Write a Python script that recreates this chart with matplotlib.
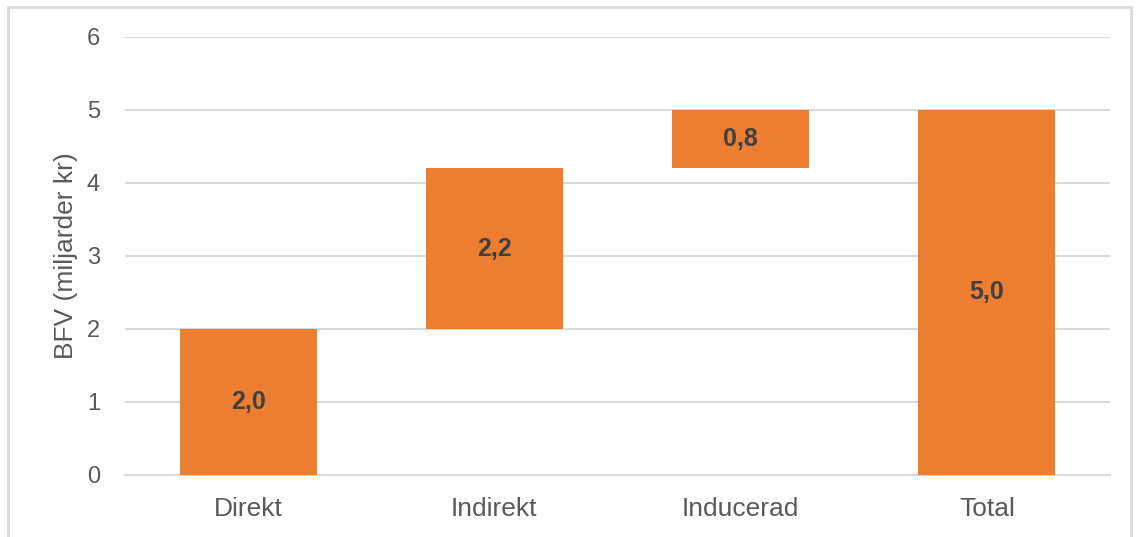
import matplotlib.pyplot as plt
from matplotlib.patches import Rectangle

kategorier = ['Direkt', 'Indirekt', 'Inducerad', 'Total']
varden = [2.0, 2.2, 0.8, 5.0]
starter = [0.0, 2.0, 4.2, 0.0]
etiketter = ['2,0', '2,2', '0,8', '5,0']
y_ticks = [0, 1, 2, 3, 4, 5, 6]

ORANGE = '#ED7D31'
GRID = '#D9D9D9'

plt.rcParams['font.family'] = ['Liberation Sans', 'DejaVu Sans']

fig = plt.figure(figsize=(11.38, 5.37), dpi=100)
ax = fig.add_axes([0.1098, 0.1155, 0.8656, 0.8156])

x = range(len(kategorier))
ax.bar(x, varden, bottom=starter, width=0.556, color=ORANGE, zorder=3)
for i, (v, s, t) in enumerate(zip(varden, starter, etiketter)):
    ax.text(i, s + v / 2, t, ha='center', va='center', fontsize=18,
            fontweight='bold', color='#404040', zorder=4)

ax.set_xlim(-0.5, 3.5)
ax.set_ylim(0, 6)
ax.set_yticks(y_ticks)
ax.set_yticklabels([str(t) for t in y_ticks])
ax.set_xticks(list(x))
ax.set_xticklabels(kategorier)
ax.tick_params(axis='both', length=0, colors='#595959')
ax.tick_params(axis='y', pad=18, labelsize=17)
ax.tick_params(axis='x', pad=16, labelsize=19)
ax.yaxis.grid(True, color=GRID, linewidth=1.5, zorder=0)
for side in ['top', 'right', 'left']:
    ax.spines[side].set_visible(False)
ax.spines['bottom'].set_color(GRID)
ax.spines['bottom'].set_linewidth(1.5)
ax.set_ylabel('BFV (miljarder kr)', fontsize=19, color='#595959', labelpad=6)

fig.patches.append(Rectangle((8 / 1138, -0.1), (1131 - 8) / 1138, 1.1 - 7 / 537,
                             transform=fig.transFigure, fill=False,
                             edgecolor='#D9D9D9', linewidth=2))

fig.savefig('out.png', dpi=100)
